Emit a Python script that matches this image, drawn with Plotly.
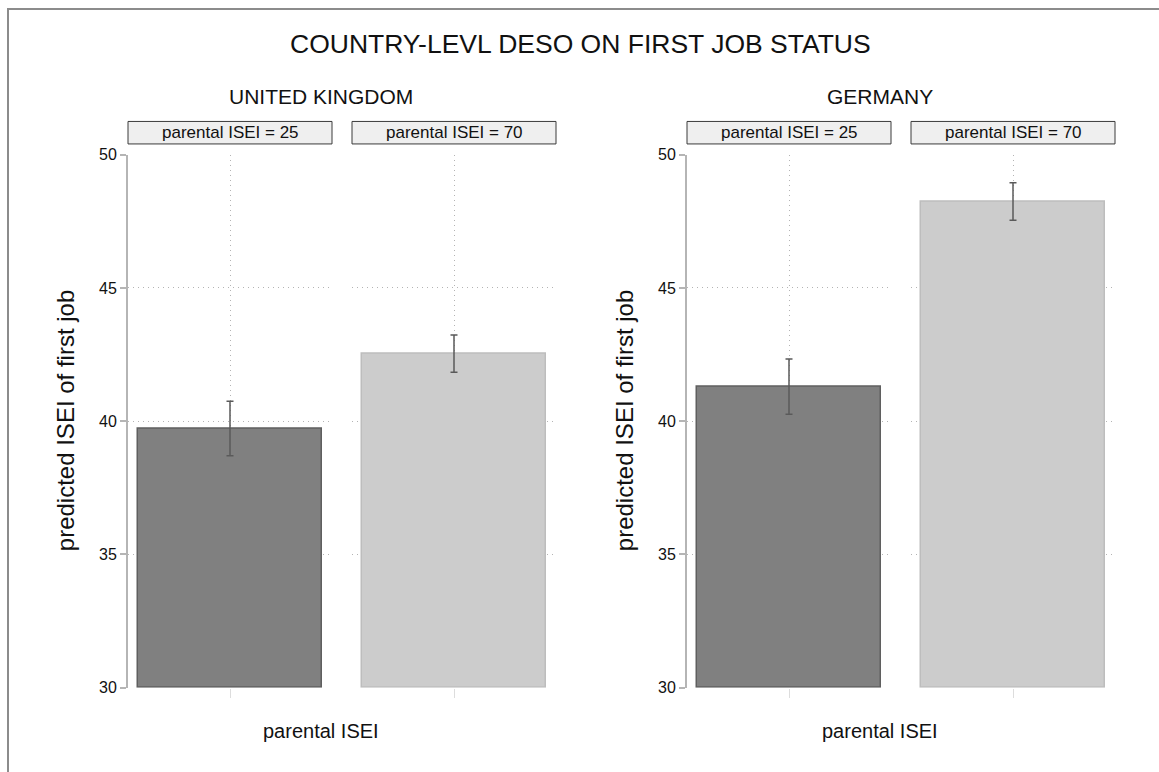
import plotly.graph_objects as go

# ---- data -------------------------------------------------------------
countries = ["UNITED KINGDOM", "GERMANY"]
parental_isei = [25, 70]
strip_labels = [f"parental ISEI = {v}" for v in parental_isei]

uk_pred = [39.72, 42.52]
uk_ci_low = [38.70, 41.84]
uk_ci_high = [40.75, 43.23]

de_pred = [41.28, 48.23]
de_ci_low = [40.26, 47.54]
de_ci_high = [42.33, 48.95]

y_ticks = [30, 35, 40, 45, 50]

# ---- geometry helpers (figure drawn with zero margins) ----------------
W, H = 1159, 772
FONT = "Liberation Sans, Arial, Helvetica, sans-serif"


def fx(p):
    return p / W


def fy(p):
    return 1 - p / H


panel_x = [(128, 332), (352, 556), (687, 891), (911, 1115)]
plot_top, plot_bottom = 150, 695
strip_top, strip_bottom = 116, 139
title_y, country_y, xtitle_y, frame_y = 37, 91, 739, 1
heading_shift = -21  # country headings / x titles sit a bit left of the panel pair

bar_fill = ["#808080", "#cccccc"]
bar_line = ["#5f5f5f", "#bdbdbd"]
grid_col = "#b4b4b4"
grid_dash = "1px,4px"

fig = go.Figure()
layout = dict(
    width=W, height=H,
    margin=dict(l=0, r=0, t=0, b=0),
    paper_bgcolor="white", plot_bgcolor="white",
    showlegend=False,
    font=dict(family=FONT, color="#111"),
)

series = [(uk_pred, uk_ci_low, uk_ci_high), (de_pred, de_ci_low, de_ci_high)]
annotations = []
shapes = []

k = 0
for c, (pred, lo, hi) in enumerate(series):
    for j in range(2):
        k += 1
        xa = "x" if k == 1 else f"x{k}"
        ya = "y" if k == 1 else f"y{k}"
        x0, x1 = panel_x[k - 1]
        first = (j == 0)
        layout[f"xaxis{'' if k == 1 else k}"] = dict(
            domain=[fx(x0), fx(x1)], range=[-0.5, 0.5], anchor=ya,
            tickvals=[0], showticklabels=False, ticks="outside", ticklen=9,
            tickcolor="#dddddd", showgrid=True, griddash=grid_dash,
            gridcolor=grid_col, gridwidth=1, showline=False, zeroline=False,
            fixedrange=True,
        )
        layout[f"yaxis{'' if k == 1 else k}"] = dict(
            domain=[fy(plot_bottom), fy(plot_top)], range=[30, 50], anchor=xa,
            tickvals=y_ticks, showticklabels=first,
            ticks="outside" if first else "", ticklen=6, tickwidth=1.5,
            tickcolor="#b5b5b5", tickfont=dict(size=16, family=FONT, color="#111"),
            showline=first, linecolor="#b5b5b5", linewidth=2,
            showgrid=True, griddash=grid_dash, gridcolor=grid_col, gridwidth=1,
            zeroline=False, fixedrange=True,
        )
        fig.add_trace(go.Bar(
            x=[0], y=[pred[j] - 30], base=30, width=0.9,
            marker=dict(color=bar_fill[j], line=dict(color=bar_line[j], width=1.5)),
            xaxis=xa, yaxis=ya, hoverinfo="skip",
        ))
        fig.add_trace(go.Scatter(
            x=[0], y=[pred[j]], mode="markers",
            marker=dict(size=1, opacity=0),
            error_y=dict(type="data", symmetric=False,
                         array=[hi[j] - pred[j]], arrayminus=[pred[j] - lo[j]],
                         color="#5a5a5a", thickness=1.5, width=3.5),
            xaxis=xa, yaxis=ya, hoverinfo="skip",
        ))
        # strip header above each panel
        shapes.append(dict(
            type="rect", xref="paper", yref="paper",
            x0=fx(x0), x1=fx(x1), y0=fy(strip_bottom), y1=fy(strip_top),
            fillcolor="#efefef", line=dict(color="#3a3a3a", width=1),
        ))
        annotations.append(dict(
            x=fx((x0 + x1) / 2), y=fy((strip_top + strip_bottom) / 2),
            xref="paper", yref="paper", text=strip_labels[j], showarrow=False,
            font=dict(size=17, family=FONT, color="#111"),
            xanchor="center", yanchor="middle",
        ))
    # country heading, axis titles
    left = panel_x[2 * c][0]
    right = panel_x[2 * c + 1][1]
    mid = (left + right) / 2 + heading_shift
    annotations.append(dict(
        x=fx(mid), y=fy(country_y), xref="paper", yref="paper", text=countries[c],
        showarrow=False, font=dict(size=21, family=FONT, color="#111"),
        xanchor="center", yanchor="middle",
    ))
    annotations.append(dict(
        x=fx(mid), y=fy(xtitle_y), xref="paper", yref="paper", text="parental ISEI",
        showarrow=False, font=dict(size=20, family=FONT, color="#111"),
        xanchor="center", yanchor="middle",
    ))
    annotations.append(dict(
        x=fx(left - 63), y=fy((plot_top + plot_bottom) / 2), xref="paper", yref="paper",
        text="predicted ISEI of first job", textangle=-90, showarrow=False,
        font=dict(size=24, family=FONT, color="#111"),
        xanchor="center", yanchor="middle",
    ))

annotations.append(dict(
    x=fx(580), y=fy(title_y), xref="paper", yref="paper",
    text="COUNTRY-LEVL DESO ON FIRST JOB STATUS", showarrow=False,
    font=dict(size=26.5, family=FONT, color="#111"),
    xanchor="center", yanchor="middle",
))

# outer frame
shapes.append(dict(
    type="rect", xref="paper", yref="paper",
    x0=fx(8), y0=-0.05, x1=1.05, y1=fy(frame_y),
    line=dict(color="#8c8c8c", width=2), fillcolor="rgba(0,0,0,0)", layer="above",
))

layout["annotations"] = annotations
layout["shapes"] = shapes
layout["bargap"] = 0
fig.update_layout(**layout)

fig.write_html("out.html", config={"displayModeBar": False})
